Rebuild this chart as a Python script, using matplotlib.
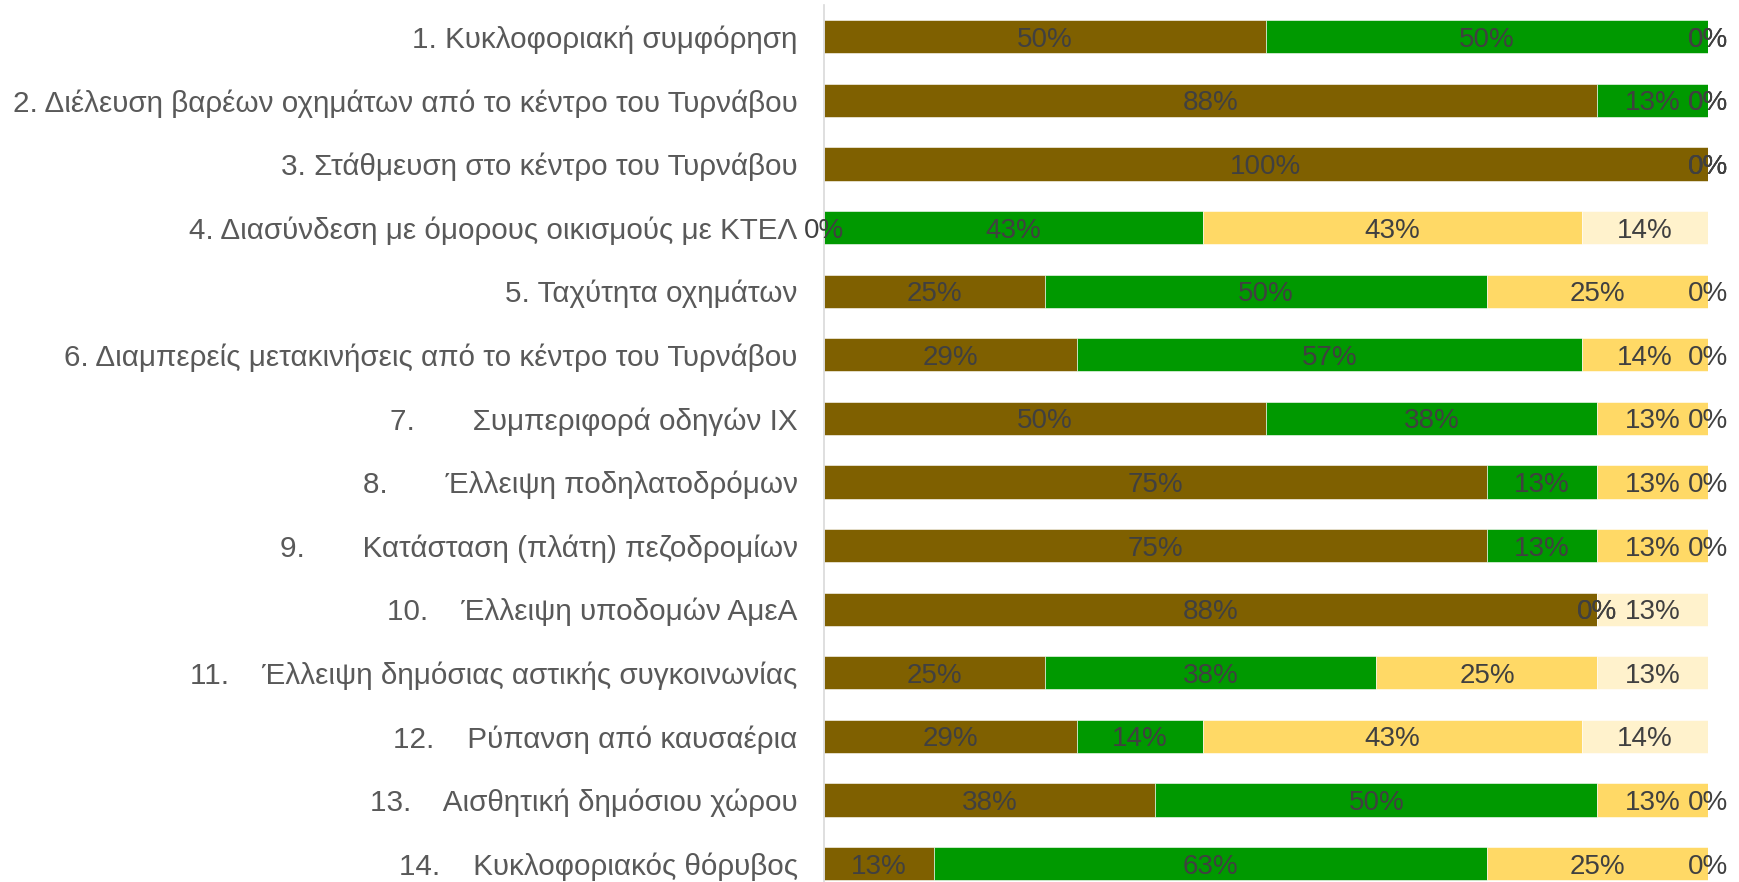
import numpy as np
import matplotlib
matplotlib.use("Agg")
import matplotlib.pyplot as plt

plt.rcParams["font.family"] = ["Liberation Sans", "DejaVu Sans"]

# problems as asked, top to bottom
categories = [
    "1. Κυκλοφοριακή συμφόρηση",
    "2. Διέλευση βαρέων οχημάτων από το κέντρο του Τυρνάβου",
    "3. Στάθμευση στο κέντρο του Τυρνάβου",
    "4. Διασύνδεση με όμορους οικισμούς με ΚΤΕΛ",
    "5. Ταχύτητα οχημάτων",
    "6. Διαμπερείς μετακινήσεις από το κέντρο του Τυρνάβου",
    "7.       Συμπεριφορά οδηγών ΙΧ",
    "8.       Έλλειψη ποδηλατοδρόμων",
    "9.       Κατάσταση (πλάτη) πεζοδρομίων",
    "10.    Έλλειψη υποδομών ΑμεΑ",
    "11.    Έλλειψη δημόσιας αστικής συγκοινωνίας",
    "12.    Ρύπανση από καυσαέρια",
    "13.    Αισθητική δημόσιου χώρου",
    "14.    Κυκλοφοριακός θόρυβος",
]

# share of answers (%) per level, one list per level
level1 = [50, 87.5, 100, 0, 25, 28.6, 50, 75, 75, 87.5, 25, 28.6, 37.5, 12.5]
level2 = [50, 12.5, 0, 42.85, 50, 57.1, 37.5, 12.5, 12.5, 0, 37.5, 14.3, 50, 62.5]
level3 = [0, 0, 0, 42.85, 25, 14.3, 12.5, 12.5, 12.5, 0, 25, 42.85, 12.5, 25]
level4 = [0, 0, 0, 14.3, 0, 0, 0, 0, 0, 12.5, 12.5, 14.3, 0, 0]

series = [level1, level2, level3, level4]
colors = ["#7F6000", "#009900", "#FFD966", "#FFF2CC"]

fig = plt.figure(figsize=(17.4, 8.82), dpi=100)
top = 1 - 5 / 882
height = 14 * 63.6 / 882
ax = fig.add_axes([824 / 1740, top - height, 884 / 1740, height])

y = np.arange(len(categories))
left = np.zeros(len(categories))
for vals, col in zip(series, colors):
    w = np.array(vals) / 100.0
    ax.barh(y, w, left=left, height=0.52, color=col, edgecolor="white", linewidth=0.4)
    for yi, li, wi, v in zip(y, left, w, vals):
        ax.text(li + wi / 2, yi, f"{int(np.floor(v + 0.5))}%", ha="center",
                va="center_baseline", fontsize=20, color="#404040", clip_on=False)
    left = left + w

ax.set_xlim(0, 1)
ax.set_ylim(len(categories) - 0.5, -0.5)
ax.set_yticks(y)
ax.set_yticklabels(categories, fontsize=21.3, color="#595959")
ax.tick_params(axis="y", length=0, pad=19)
ax.set_xticks([])
for s in ["top", "right", "bottom"]:
    ax.spines[s].set_visible(False)
ax.spines["left"].set_color("#D9D9D9")
ax.spines["left"].set_linewidth(1.2)

fig.savefig("out.png", dpi=100)
